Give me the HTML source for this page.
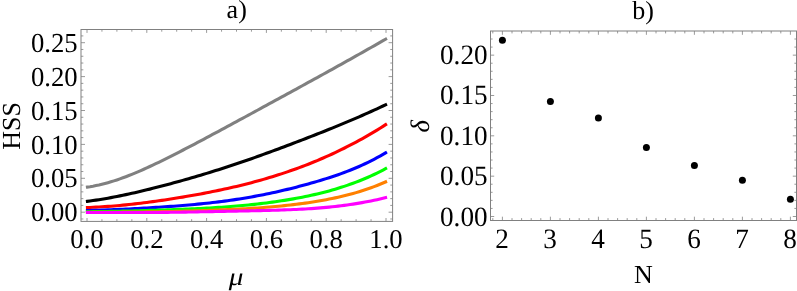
<!DOCTYPE html>
<html><head><meta charset="utf-8"><title>chart</title>
<style>html,body{margin:0;padding:0;background:#fff;}body{width:797px;height:291px;overflow:hidden;font-family:"Liberation Serif",serif;}</style>
</head><body>
<svg width="797" height="291" viewBox="0 0 797 291" style="display:block;will-change:transform">
<rect width="797" height="291" fill="#fff"/>
<g fill="none" stroke-width="3.1" stroke-linecap="butt" stroke-linejoin="round">
<path d="M85.91,187.26 L87.00,187.11 L89.99,186.68 L92.98,186.18 L95.97,185.60 L98.96,184.97 L101.95,184.27 L104.94,183.51 L107.93,182.69 L110.92,181.82 L113.91,180.89 L116.90,179.91 L119.89,178.89 L122.88,177.82 L125.87,176.70 L128.86,175.55 L131.85,174.36 L134.84,173.13 L137.83,171.87 L140.82,170.57 L143.81,169.25 L146.80,167.90 L149.79,166.53 L152.78,165.13 L155.77,163.71 L158.76,162.28 L161.75,160.82 L164.74,159.35 L167.73,157.86 L170.72,156.36 L173.71,154.85 L176.70,153.33 L179.69,151.79 L182.68,150.25 L185.67,148.70 L188.66,147.14 L191.65,145.58 L194.64,144.01 L197.63,142.43 L200.62,140.85 L203.61,139.27 L206.60,137.68 L209.59,136.08 L212.58,134.48 L215.57,132.88 L218.56,131.28 L221.55,129.67 L224.54,128.06 L227.53,126.45 L230.52,124.84 L233.51,123.22 L236.50,121.60 L239.49,119.98 L242.48,118.36 L245.47,116.74 L248.46,115.11 L251.45,113.49 L254.44,111.86 L257.43,110.24 L260.42,108.61 L263.41,106.98 L266.40,105.35 L269.39,103.72 L272.38,102.09 L275.37,100.46 L278.36,98.83 L281.35,97.20 L284.34,95.56 L287.33,93.93 L290.32,92.30 L293.31,90.66 L296.30,89.03 L299.29,87.39 L302.28,85.75 L305.27,84.11 L308.26,82.48 L311.25,80.83 L314.24,79.19 L317.23,77.55 L320.22,75.90 L323.21,74.25 L326.20,72.60 L329.19,70.95 L332.18,69.29 L335.17,67.63 L338.16,65.97 L341.15,64.31 L344.14,62.64 L347.13,60.97 L350.12,59.30 L353.11,57.62 L356.10,55.95 L359.09,54.26 L362.08,52.58 L365.07,50.89 L368.06,49.20 L371.05,47.51 L374.04,45.81 L377.03,44.11 L380.02,42.40 L383.01,40.70 L386.00,38.98 L386.95,38.44" stroke="#808080"/>
<path d="M85.91,201.54 L87.00,201.39 L89.99,201.00 L92.98,200.58 L95.97,200.13 L98.96,199.67 L101.95,199.19 L104.94,198.68 L107.93,198.16 L110.92,197.62 L113.91,197.05 L116.90,196.48 L119.89,195.88 L122.88,195.27 L125.87,194.64 L128.86,194.00 L131.85,193.34 L134.84,192.67 L137.83,191.98 L140.82,191.29 L143.81,190.57 L146.80,189.85 L149.79,189.12 L152.78,188.37 L155.77,187.61 L158.76,186.85 L161.75,186.07 L164.74,185.29 L167.73,184.49 L170.72,183.68 L173.71,182.87 L176.70,182.05 L179.69,181.22 L182.68,180.38 L185.67,179.53 L188.66,178.68 L191.65,177.81 L194.64,176.94 L197.63,176.06 L200.62,175.17 L203.61,174.28 L206.60,173.37 L209.59,172.45 L212.58,171.53 L215.57,170.60 L218.56,169.66 L221.55,168.70 L224.54,167.74 L227.53,166.77 L230.52,165.80 L233.51,164.81 L236.50,163.81 L239.49,162.80 L242.48,161.78 L245.47,160.75 L248.46,159.72 L251.45,158.67 L254.44,157.62 L257.43,156.56 L260.42,155.49 L263.41,154.41 L266.40,153.33 L269.39,152.24 L272.38,151.14 L275.37,150.04 L278.36,148.93 L281.35,147.82 L284.34,146.70 L287.33,145.57 L290.32,144.44 L293.31,143.30 L296.30,142.17 L299.29,141.02 L302.28,139.87 L305.27,138.72 L308.26,137.56 L311.25,136.40 L314.24,135.23 L317.23,134.05 L320.22,132.87 L323.21,131.69 L326.20,130.49 L329.19,129.29 L332.18,128.08 L335.17,126.87 L338.16,125.64 L341.15,124.41 L344.14,123.17 L347.13,121.92 L350.12,120.66 L353.11,119.39 L356.10,118.11 L359.09,116.82 L362.08,115.51 L365.07,114.20 L368.06,112.87 L371.05,111.53 L374.04,110.17 L377.03,108.81 L380.02,107.42 L383.01,106.03 L386.00,104.61 L386.99,104.14" stroke="#000000"/>
<path d="M85.90,207.59 L87.00,207.54 L89.99,207.43 L92.98,207.30 L95.97,207.16 L98.96,207.00 L101.95,206.82 L104.94,206.62 L107.93,206.42 L110.92,206.19 L113.91,205.95 L116.90,205.70 L119.89,205.43 L122.88,205.15 L125.87,204.86 L128.86,204.55 L131.85,204.23 L134.84,203.90 L137.83,203.55 L140.82,203.19 L143.81,202.82 L146.80,202.44 L149.79,202.05 L152.78,201.65 L155.77,201.24 L158.76,200.82 L161.75,200.38 L164.74,199.94 L167.73,199.49 L170.72,199.03 L173.71,198.56 L176.70,198.08 L179.69,197.59 L182.68,197.10 L185.67,196.59 L188.66,196.08 L191.65,195.55 L194.64,195.02 L197.63,194.47 L200.62,193.92 L203.61,193.36 L206.60,192.78 L209.59,192.20 L212.58,191.60 L215.57,191.00 L218.56,190.38 L221.55,189.75 L224.54,189.10 L227.53,188.45 L230.52,187.77 L233.51,187.09 L236.50,186.39 L239.49,185.68 L242.48,184.95 L245.47,184.20 L248.46,183.44 L251.45,182.66 L254.44,181.86 L257.43,181.05 L260.42,180.22 L263.41,179.37 L266.40,178.50 L269.39,177.61 L272.38,176.71 L275.37,175.78 L278.36,174.83 L281.35,173.87 L284.34,172.88 L287.33,171.87 L290.32,170.84 L293.31,169.79 L296.30,168.71 L299.29,167.62 L302.28,166.50 L305.27,165.36 L308.26,164.20 L311.25,163.01 L314.24,161.80 L317.23,160.56 L320.22,159.30 L323.21,158.01 L326.20,156.70 L329.19,155.36 L332.18,153.99 L335.17,152.60 L338.16,151.18 L341.15,149.73 L344.14,148.25 L347.13,146.74 L350.12,145.21 L353.11,143.64 L356.10,142.05 L359.09,140.43 L362.08,138.77 L365.07,137.09 L368.06,135.38 L371.05,133.63 L374.04,131.85 L377.03,130.05 L380.02,128.21 L383.01,126.33 L386.00,124.43 L386.93,123.84" stroke="#ff0000"/>
<path d="M85.90,210.54 L87.00,210.51 L89.99,210.45 L92.98,210.37 L95.97,210.29 L98.96,210.19 L101.95,210.10 L104.94,209.99 L107.93,209.88 L110.92,209.76 L113.91,209.64 L116.90,209.51 L119.89,209.37 L122.88,209.24 L125.87,209.09 L128.86,208.94 L131.85,208.79 L134.84,208.63 L137.83,208.47 L140.82,208.30 L143.81,208.13 L146.80,207.96 L149.79,207.78 L152.78,207.60 L155.77,207.41 L158.76,207.22 L161.75,207.03 L164.74,206.82 L167.73,206.62 L170.72,206.40 L173.71,206.19 L176.70,205.96 L179.69,205.73 L182.68,205.49 L185.67,205.24 L188.66,204.98 L191.65,204.72 L194.64,204.44 L197.63,204.16 L200.62,203.87 L203.61,203.56 L206.60,203.25 L209.59,202.92 L212.58,202.58 L215.57,202.23 L218.56,201.87 L221.55,201.49 L224.54,201.10 L227.53,200.70 L230.52,200.28 L233.51,199.85 L236.50,199.40 L239.49,198.93 L242.48,198.46 L245.47,197.96 L248.46,197.45 L251.45,196.93 L254.44,196.39 L257.43,195.83 L260.42,195.26 L263.41,194.67 L266.40,194.06 L269.39,193.44 L272.38,192.80 L275.37,192.15 L278.36,191.48 L281.35,190.80 L284.34,190.10 L287.33,189.38 L290.32,188.65 L293.31,187.90 L296.30,187.14 L299.29,186.37 L302.28,185.58 L305.27,184.77 L308.26,183.95 L311.25,183.11 L314.24,182.25 L317.23,181.38 L320.22,180.48 L323.21,179.57 L326.20,178.64 L329.19,177.68 L332.18,176.70 L335.17,175.70 L338.16,174.67 L341.15,173.60 L344.14,172.51 L347.13,171.38 L350.12,170.22 L353.11,169.02 L356.10,167.77 L359.09,166.49 L362.08,165.16 L365.07,163.78 L368.06,162.35 L371.05,160.87 L374.04,159.33 L377.03,157.73 L380.02,156.07 L383.01,154.35 L386.00,152.56 L386.94,152.00" stroke="#0000ff"/>
<path d="M85.90,211.71 L87.00,211.70 L89.99,211.69 L92.98,211.67 L95.97,211.64 L98.96,211.61 L101.95,211.57 L104.94,211.53 L107.93,211.48 L110.92,211.42 L113.91,211.37 L116.90,211.30 L119.89,211.24 L122.88,211.17 L125.87,211.10 L128.86,211.02 L131.85,210.94 L134.84,210.86 L137.83,210.78 L140.82,210.69 L143.81,210.60 L146.80,210.51 L149.79,210.42 L152.78,210.32 L155.77,210.23 L158.76,210.13 L161.75,210.03 L164.74,209.93 L167.73,209.82 L170.72,209.71 L173.71,209.60 L176.70,209.49 L179.69,209.37 L182.68,209.25 L185.67,209.12 L188.66,208.99 L191.65,208.86 L194.64,208.72 L197.63,208.58 L200.62,208.43 L203.61,208.27 L206.60,208.11 L209.59,207.94 L212.58,207.77 L215.57,207.58 L218.56,207.39 L221.55,207.19 L224.54,206.99 L227.53,206.77 L230.52,206.54 L233.51,206.31 L236.50,206.06 L239.49,205.80 L242.48,205.53 L245.47,205.25 L248.46,204.96 L251.45,204.66 L254.44,204.34 L257.43,204.01 L260.42,203.66 L263.41,203.31 L266.40,202.93 L269.39,202.55 L272.38,202.14 L275.37,201.73 L278.36,201.29 L281.35,200.84 L284.34,200.37 L287.33,199.89 L290.32,199.38 L293.31,198.86 L296.30,198.32 L299.29,197.76 L302.28,197.18 L305.27,196.58 L308.26,195.95 L311.25,195.30 L314.24,194.63 L317.23,193.93 L320.22,193.21 L323.21,192.46 L326.20,191.68 L329.19,190.88 L332.18,190.04 L335.17,189.17 L338.16,188.27 L341.15,187.34 L344.14,186.37 L347.13,185.37 L350.12,184.33 L353.11,183.25 L356.10,182.13 L359.09,180.97 L362.08,179.77 L365.07,178.52 L368.06,177.23 L371.05,175.90 L374.04,174.51 L377.03,173.08 L380.02,171.60 L383.01,170.07 L386.00,168.48 L386.97,167.97" stroke="#00ff00"/>
<path d="M85.90,212.31 L87.00,212.30 L89.99,212.30 L92.98,212.29 L95.97,212.29 L98.96,212.28 L101.95,212.27 L104.94,212.26 L107.93,212.24 L110.92,212.23 L113.91,212.21 L116.90,212.20 L119.89,212.18 L122.88,212.16 L125.87,212.13 L128.86,212.11 L131.85,212.08 L134.84,212.05 L137.83,212.02 L140.82,211.99 L143.81,211.95 L146.80,211.91 L149.79,211.87 L152.78,211.82 L155.77,211.78 L158.76,211.73 L161.75,211.67 L164.74,211.62 L167.73,211.56 L170.72,211.50 L173.71,211.43 L176.70,211.36 L179.69,211.29 L182.68,211.21 L185.67,211.13 L188.66,211.05 L191.65,210.96 L194.64,210.87 L197.63,210.78 L200.62,210.68 L203.61,210.58 L206.60,210.47 L209.59,210.36 L212.58,210.25 L215.57,210.14 L218.56,210.02 L221.55,209.89 L224.54,209.76 L227.53,209.63 L230.52,209.49 L233.51,209.34 L236.50,209.19 L239.49,209.03 L242.48,208.87 L245.47,208.70 L248.46,208.52 L251.45,208.33 L254.44,208.14 L257.43,207.93 L260.42,207.72 L263.41,207.50 L266.40,207.27 L269.39,207.02 L272.38,206.77 L275.37,206.50 L278.36,206.22 L281.35,205.93 L284.34,205.62 L287.33,205.31 L290.32,204.97 L293.31,204.63 L296.30,204.27 L299.29,203.89 L302.28,203.50 L305.27,203.09 L308.26,202.66 L311.25,202.21 L314.24,201.75 L317.23,201.26 L320.22,200.76 L323.21,200.23 L326.20,199.68 L329.19,199.10 L332.18,198.50 L335.17,197.87 L338.16,197.22 L341.15,196.54 L344.14,195.82 L347.13,195.08 L350.12,194.29 L353.11,193.48 L356.10,192.63 L359.09,191.73 L362.08,190.80 L365.07,189.83 L368.06,188.81 L371.05,187.75 L374.04,186.65 L377.03,185.49 L380.02,184.28 L383.01,183.02 L386.00,181.71 L387.01,181.27" stroke="#ff8000"/>
<path d="M85.90,212.56 L87.00,212.56 L89.99,212.56 L92.98,212.56 L95.97,212.56 L98.96,212.56 L101.95,212.56 L104.94,212.56 L107.93,212.56 L110.92,212.56 L113.91,212.56 L116.90,212.56 L119.89,212.56 L122.88,212.56 L125.87,212.56 L128.86,212.56 L131.85,212.56 L134.84,212.55 L137.83,212.55 L140.82,212.54 L143.81,212.53 L146.80,212.52 L149.79,212.50 L152.78,212.49 L155.77,212.47 L158.76,212.44 L161.75,212.42 L164.74,212.39 L167.73,212.36 L170.72,212.32 L173.71,212.28 L176.70,212.24 L179.69,212.20 L182.68,212.15 L185.67,212.10 L188.66,212.05 L191.65,211.99 L194.64,211.94 L197.63,211.88 L200.62,211.82 L203.61,211.76 L206.60,211.70 L209.59,211.64 L212.58,211.58 L215.57,211.53 L218.56,211.47 L221.55,211.41 L224.54,211.35 L227.53,211.29 L230.52,211.23 L233.51,211.17 L236.50,211.11 L239.49,211.05 L242.48,210.99 L245.47,210.92 L248.46,210.86 L251.45,210.80 L254.44,210.73 L257.43,210.67 L260.42,210.60 L263.41,210.53 L266.40,210.45 L269.39,210.38 L272.38,210.30 L275.37,210.21 L278.36,210.12 L281.35,210.02 L284.34,209.92 L287.33,209.81 L290.32,209.69 L293.31,209.56 L296.30,209.43 L299.29,209.28 L302.28,209.12 L305.27,208.96 L308.26,208.77 L311.25,208.58 L314.24,208.37 L317.23,208.15 L320.22,207.91 L323.21,207.66 L326.20,207.39 L329.19,207.10 L332.18,206.80 L335.17,206.47 L338.16,206.13 L341.15,205.77 L344.14,205.39 L347.13,204.98 L350.12,204.56 L353.11,204.11 L356.10,203.64 L359.09,203.15 L362.08,202.63 L365.07,202.09 L368.06,201.52 L371.05,200.93 L374.04,200.31 L377.03,199.67 L380.02,198.99 L383.01,198.29 L386.00,197.57 L387.07,197.31" stroke="#ff00ff"/>
</g>
<path d="M87.00,221.4 v-3.4 M87.00,29.5 v3.4 M101.95,221.4 v-2.2 M101.95,29.5 v2.2 M116.90,221.4 v-2.2 M116.90,29.5 v2.2 M131.85,221.4 v-2.2 M131.85,29.5 v2.2 M146.80,221.4 v-3.4 M146.80,29.5 v3.4 M161.75,221.4 v-2.2 M161.75,29.5 v2.2 M176.70,221.4 v-2.2 M176.70,29.5 v2.2 M191.65,221.4 v-2.2 M191.65,29.5 v2.2 M206.60,221.4 v-3.4 M206.60,29.5 v3.4 M221.55,221.4 v-2.2 M221.55,29.5 v2.2 M236.50,221.4 v-2.2 M236.50,29.5 v2.2 M251.45,221.4 v-2.2 M251.45,29.5 v2.2 M266.40,221.4 v-3.4 M266.40,29.5 v3.4 M281.35,221.4 v-2.2 M281.35,29.5 v2.2 M296.30,221.4 v-2.2 M296.30,29.5 v2.2 M311.25,221.4 v-2.2 M311.25,29.5 v2.2 M326.20,221.4 v-3.4 M326.20,29.5 v3.4 M341.15,221.4 v-2.2 M341.15,29.5 v2.2 M356.10,221.4 v-2.2 M356.10,29.5 v2.2 M371.05,221.4 v-2.2 M371.05,29.5 v2.2 M386.00,221.4 v-3.4 M386.00,29.5 v3.4 M81.0,218.98 h2.35 M392.6,218.98 h-2.35 M81.0,212.20 h4.0 M392.6,212.20 h-4.0 M81.0,205.42 h2.35 M392.6,205.42 h-2.35 M81.0,198.64 h2.35 M392.6,198.64 h-2.35 M81.0,191.86 h2.35 M392.6,191.86 h-2.35 M81.0,185.08 h2.35 M392.6,185.08 h-2.35 M81.0,178.30 h4.0 M392.6,178.30 h-4.0 M81.0,171.52 h2.35 M392.6,171.52 h-2.35 M81.0,164.74 h2.35 M392.6,164.74 h-2.35 M81.0,157.96 h2.35 M392.6,157.96 h-2.35 M81.0,151.18 h2.35 M392.6,151.18 h-2.35 M81.0,144.40 h4.0 M392.6,144.40 h-4.0 M81.0,137.62 h2.35 M392.6,137.62 h-2.35 M81.0,130.84 h2.35 M392.6,130.84 h-2.35 M81.0,124.06 h2.35 M392.6,124.06 h-2.35 M81.0,117.28 h2.35 M392.6,117.28 h-2.35 M81.0,110.50 h4.0 M392.6,110.50 h-4.0 M81.0,103.72 h2.35 M392.6,103.72 h-2.35 M81.0,96.94 h2.35 M392.6,96.94 h-2.35 M81.0,90.16 h2.35 M392.6,90.16 h-2.35 M81.0,83.38 h2.35 M392.6,83.38 h-2.35 M81.0,76.60 h4.0 M392.6,76.60 h-4.0 M81.0,69.82 h2.35 M392.6,69.82 h-2.35 M81.0,63.04 h2.35 M392.6,63.04 h-2.35 M81.0,56.26 h2.35 M392.6,56.26 h-2.35 M81.0,49.48 h2.35 M392.6,49.48 h-2.35 M81.0,42.70 h4.0 M392.6,42.70 h-4.0 M81.0,35.92 h2.35 M392.6,35.92 h-2.35" stroke="#808080" stroke-width="0.8" fill="none"/>
<rect x="81.0" y="29.5" width="311.6" height="191.9" fill="none" stroke="#808080" stroke-width="1"/>
<path d="M492.80,220.5 v-2.4 M492.80,31.0 v2.4 M502.40,220.5 v-3.8 M502.40,31.0 v3.8 M512.00,220.5 v-2.4 M512.00,31.0 v2.4 M521.60,220.5 v-2.4 M521.60,31.0 v2.4 M531.20,220.5 v-2.4 M531.20,31.0 v2.4 M540.80,220.5 v-2.4 M540.80,31.0 v2.4 M550.40,220.5 v-3.8 M550.40,31.0 v3.8 M560.00,220.5 v-2.4 M560.00,31.0 v2.4 M569.60,220.5 v-2.4 M569.60,31.0 v2.4 M579.20,220.5 v-2.4 M579.20,31.0 v2.4 M588.80,220.5 v-2.4 M588.80,31.0 v2.4 M598.40,220.5 v-3.8 M598.40,31.0 v3.8 M608.00,220.5 v-2.4 M608.00,31.0 v2.4 M617.60,220.5 v-2.4 M617.60,31.0 v2.4 M627.20,220.5 v-2.4 M627.20,31.0 v2.4 M636.80,220.5 v-2.4 M636.80,31.0 v2.4 M646.40,220.5 v-3.8 M646.40,31.0 v3.8 M656.00,220.5 v-2.4 M656.00,31.0 v2.4 M665.60,220.5 v-2.4 M665.60,31.0 v2.4 M675.20,220.5 v-2.4 M675.20,31.0 v2.4 M684.80,220.5 v-2.4 M684.80,31.0 v2.4 M694.40,220.5 v-3.8 M694.40,31.0 v3.8 M704.00,220.5 v-2.4 M704.00,31.0 v2.4 M713.60,220.5 v-2.4 M713.60,31.0 v2.4 M723.20,220.5 v-2.4 M723.20,31.0 v2.4 M732.80,220.5 v-2.4 M732.80,31.0 v2.4 M742.40,220.5 v-3.8 M742.40,31.0 v3.8 M752.00,220.5 v-2.4 M752.00,31.0 v2.4 M761.60,220.5 v-2.4 M761.60,31.0 v2.4 M771.20,220.5 v-2.4 M771.20,31.0 v2.4 M780.80,220.5 v-2.4 M780.80,31.0 v2.4 M790.40,220.5 v-3.8 M790.40,31.0 v3.8 M490.5,216.50 h3.7 M796.5,216.50 h-3.7 M490.5,208.43 h2.1 M796.5,208.43 h-2.1 M490.5,200.37 h2.1 M796.5,200.37 h-2.1 M490.5,192.30 h2.1 M796.5,192.30 h-2.1 M490.5,184.23 h2.1 M796.5,184.23 h-2.1 M490.5,176.16 h3.7 M796.5,176.16 h-3.7 M490.5,168.09 h2.1 M796.5,168.09 h-2.1 M490.5,160.03 h2.1 M796.5,160.03 h-2.1 M490.5,151.96 h2.1 M796.5,151.96 h-2.1 M490.5,143.89 h2.1 M796.5,143.89 h-2.1 M490.5,135.82 h3.7 M796.5,135.82 h-3.7 M490.5,127.76 h2.1 M796.5,127.76 h-2.1 M490.5,119.69 h2.1 M796.5,119.69 h-2.1 M490.5,111.62 h2.1 M796.5,111.62 h-2.1 M490.5,103.55 h2.1 M796.5,103.55 h-2.1 M490.5,95.49 h3.7 M796.5,95.49 h-3.7 M490.5,87.42 h2.1 M796.5,87.42 h-2.1 M490.5,79.35 h2.1 M796.5,79.35 h-2.1 M490.5,71.28 h2.1 M796.5,71.28 h-2.1 M490.5,63.22 h2.1 M796.5,63.22 h-2.1 M490.5,55.15 h3.7 M796.5,55.15 h-3.7 M490.5,47.08 h2.1 M796.5,47.08 h-2.1 M490.5,39.01 h2.1 M796.5,39.01 h-2.1" stroke="#808080" stroke-width="0.8" fill="none"/>
<rect x="490.5" y="31.0" width="306.0" height="189.5" fill="none" stroke="#808080" stroke-width="1"/>
<circle cx="502.40" cy="40.3" r="3.5" fill="#000"/>
<circle cx="550.40" cy="101.4" r="3.5" fill="#000"/>
<circle cx="598.40" cy="118.1" r="3.5" fill="#000"/>
<circle cx="646.40" cy="147.4" r="3.5" fill="#000"/>
<circle cx="694.40" cy="165.4" r="3.5" fill="#000"/>
<circle cx="742.40" cy="180.3" r="3.5" fill="#000"/>
<circle cx="790.40" cy="199.2" r="3.5" fill="#000"/>
<g font-family="'Liberation Serif', serif" font-size="27.2" fill="#000" text-rendering="geometricPrecision">
<text transform="translate(77.7,221.30) scale(1,1.03)" text-anchor="end" font-size="26.7">0.00</text>
<text transform="translate(77.7,187.40) scale(1,1.03)" text-anchor="end" font-size="26.7">0.05</text>
<text transform="translate(77.7,153.50) scale(1,1.03)" text-anchor="end" font-size="26.7">0.10</text>
<text transform="translate(77.7,119.60) scale(1,1.03)" text-anchor="end" font-size="26.7">0.15</text>
<text transform="translate(77.7,85.70) scale(1,1.03)" text-anchor="end" font-size="26.7">0.20</text>
<text transform="translate(77.7,51.80) scale(1,1.03)" text-anchor="end" font-size="26.7">0.25</text>
<text transform="translate(87.00,248.4) scale(1,1.02)" text-anchor="middle" font-size="26.7">0.0</text>
<text transform="translate(146.80,248.4) scale(1,1.02)" text-anchor="middle" font-size="26.7">0.2</text>
<text transform="translate(206.60,248.4) scale(1,1.02)" text-anchor="middle" font-size="26.7">0.4</text>
<text transform="translate(266.40,248.4) scale(1,1.02)" text-anchor="middle" font-size="26.7">0.6</text>
<text transform="translate(326.20,248.4) scale(1,1.02)" text-anchor="middle" font-size="26.7">0.8</text>
<text transform="translate(386.00,248.4) scale(1,1.02)" text-anchor="middle" font-size="26.7">1.0</text>
<text x="236.7" y="17.7" text-anchor="middle" font-size="26">a)</text>
<text transform="translate(236.1,284.7) scale(1.17,1)" text-anchor="middle" font-style="italic" font-size="25">μ</text>
<text transform="translate(19.7,126) rotate(-90)" text-anchor="middle" font-size="26">HSS</text>
<text transform="translate(487.6,225.50) scale(1,1.03)" text-anchor="end">0.00</text>
<text transform="translate(487.6,185.16) scale(1,1.03)" text-anchor="end">0.05</text>
<text transform="translate(487.6,144.82) scale(1,1.03)" text-anchor="end">0.10</text>
<text transform="translate(487.6,104.49) scale(1,1.03)" text-anchor="end">0.15</text>
<text transform="translate(487.6,64.15) scale(1,1.03)" text-anchor="end">0.20</text>
<text transform="translate(502.00,248.0) scale(1,1.03)" text-anchor="middle">2</text>
<text transform="translate(550.00,248.0) scale(1,1.03)" text-anchor="middle">3</text>
<text transform="translate(598.00,248.0) scale(1,1.03)" text-anchor="middle">4</text>
<text transform="translate(646.00,248.0) scale(1,1.03)" text-anchor="middle">5</text>
<text transform="translate(694.00,248.0) scale(1,1.03)" text-anchor="middle">6</text>
<text transform="translate(742.00,248.0) scale(1,1.03)" text-anchor="middle">7</text>
<text transform="translate(790.00,248.0) scale(1,1.03)" text-anchor="middle">8</text>
<text x="643" y="19.4" text-anchor="middle" font-size="26">b)</text>
<text x="643.3" y="282.8" text-anchor="middle" font-size="26">N</text>
<text transform="translate(429,126.2) rotate(-90)" text-anchor="middle" font-style="italic" font-size="26.7">δ</text>
</g>
</svg>
</body></html>
